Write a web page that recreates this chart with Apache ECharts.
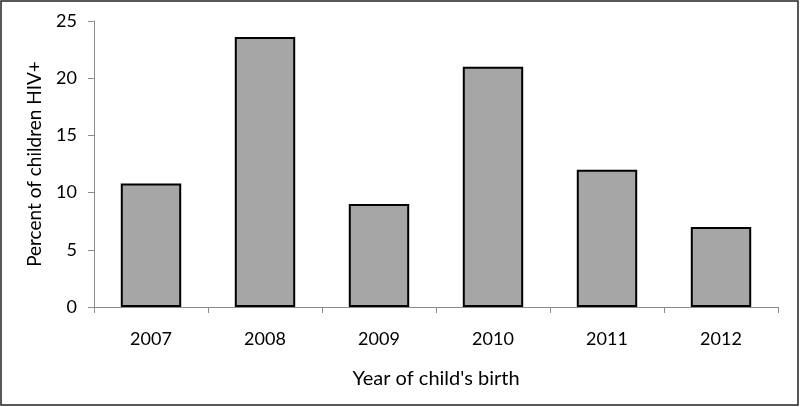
<!DOCTYPE html>
<html><head><meta charset="utf-8">
<script src="https://cdn.jsdelivr.net/npm/echarts@6/dist/echarts.min.js"></script>
<style>html,body{margin:0;padding:0;background:#fff}#c{width:800px;height:407px}</style>
</head><body><div id="c"></div>
<script>
const categories = ['2007','2008','2009','2010','2011','2012'];
const values = [10.8, 23.6, 9.0, 21.0, 12.0, 7.0];
const yTicks = [0,5,10,15,20,25];
const xTitle = "Year of child's birth";
const yTitle = 'Percent of children HIV+';

const chart = echarts.init(document.getElementById('c'));
const font = 'Lato, "Liberation Sans", sans-serif';
chart.setOption({
  animation: false,
  backgroundColor: '#fff',
  graphic: [{type:'rect', shape:{x:1,y:1,width:797,height:404}, style:{fill:'none', stroke:'#222', lineWidth:1.5}, silent:true}],
  grid: {left: 94, right: 22, top: 21, bottom: 100},
  xAxis: {
    type: 'category', data: categories,
    axisLine: {lineStyle:{color:'#8c8c8c', width:1}},
    axisTick: {show:true, length:6, lineStyle:{color:'#8c8c8c'}},
    axisLabel: {color:'#000', fontFamily:font, fontSize:18, margin:23},
    name: xTitle, nameLocation:'middle', nameGap: 62,
    nameTextStyle: {color:'#000', fontFamily:font, fontSize:20}
  },
  yAxis: {
    type: 'value', min: 0, max: 25, interval: 5,
    axisLine: {show:true, lineStyle:{color:'#8c8c8c', width:1}},
    axisTick: {show:true, length:6, lineStyle:{color:'#8c8c8c'}},
    splitLine: {show:false},
    axisLabel: {color:'#000', fontFamily:font, fontSize:18, margin:17,
      formatter: v => yTicks.includes(v) ? String(v) : ''},
    name: yTitle, nameLocation:'middle', nameGap: 50,
    nameTextStyle: {color:'#000', fontFamily:font, fontSize:19}
  },
  series: [{
    type:'bar', data: values, barWidth: '53%',
    itemStyle: {color:'#a6a6a6', borderColor:'#000', borderWidth:2}
  }]
});
</script></body></html>
